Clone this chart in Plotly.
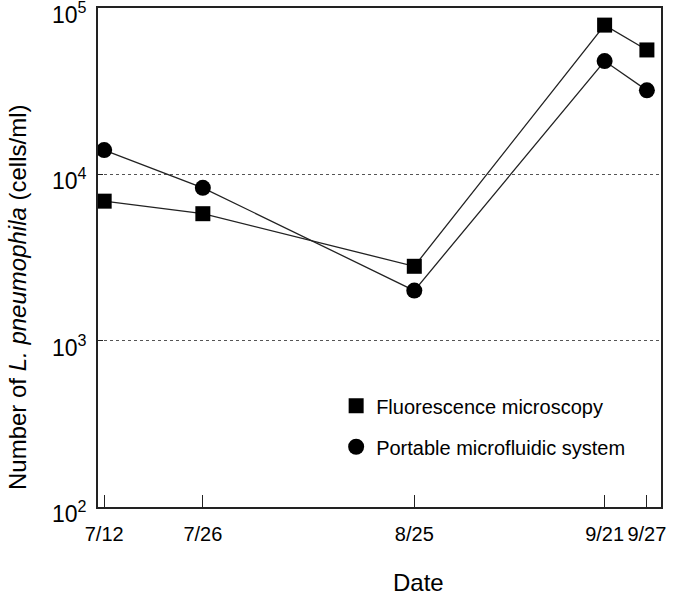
import math
import plotly.graph_objects as go

dates = ["2011-07-12", "2011-07-26", "2011-08-25", "2011-09-21", "2011-09-27"]
date_labels = ["7/12", "7/26", "8/25", "9/21", "9/27"]
fluorescence = [6900, 5800, 2800, 79000, 56000]
microfluidic = [14000, 8300, 2000, 48000, 32000]
y_tickvals = [100, 1000, 10000, 100000]
y_ticktext = ["10<sup>2</sup>", "10<sup>3</sup>", "10<sup>4</sup>", "10<sup>5</sup>"]

FONT = "Liberation Sans, Arial, sans-serif"
LINE = "#222222"

fig = go.Figure()
fig.add_trace(go.Scatter(x=dates, y=fluorescence, mode="lines+markers",
                         line=dict(color=LINE, width=1.3),
                         marker=dict(symbol="square", size=15, color="black"),
                         showlegend=False))
fig.add_trace(go.Scatter(x=dates, y=microfluidic, mode="lines+markers",
                         line=dict(color=LINE, width=1.3),
                         marker=dict(symbol="circle", size=16, color="black"),
                         showlegend=False))
# legend entries (marker only)
fig.add_trace(go.Scatter(x=[None], y=[None], mode="markers", name="Fluorescence microscopy",
                         marker=dict(symbol="square", size=15, color="black"),
                         legendgroup="a"))
fig.add_trace(go.Scatter(x=[None], y=[None], mode="markers", name="Portable microfluidic system",
                         marker=dict(symbol="circle", size=16, color="black"),
                         legendgroup="b"))

# y tick labels as annotations (log axis -> log10 positions), nudged slightly below ticks
y_label_annots = [
    dict(text=t, xref="paper", yref="y", x=0, y=math.log10(v), xanchor="right",
         yanchor="middle", xshift=-9, yshift=-5, showarrow=False,
         font=dict(size=23, color="black"))
    for v, t in zip(y_tickvals, y_ticktext)
]

fig.update_layout(
    width=675, height=599,
    margin=dict(l=98, r=14, t=8, b=92, autoexpand=False),
    paper_bgcolor="white", plot_bgcolor="white",
    font=dict(family=FONT, size=21, color="black"),
    showlegend=True,
    legend=dict(x=0.423, y=0.242, xanchor="left", yanchor="top",
                font=dict(size=20, color="black"), bgcolor="rgba(0,0,0,0)",
                tracegroupgap=12, traceorder="grouped", itemwidth=30),
    annotations=[
        dict(text="Number of <i>L. pneumophila</i> (cells/ml)", textangle=-90,
             xref="paper", yref="paper", x=(17 - 98) / 563, y=(507 - 297) / 499,
             xanchor="center", yanchor="middle", showarrow=False,
             font=dict(size=24, color="black")),
        dict(text="Date", xref="paper", yref="paper",
             x=(418 - 98) / 563, y=(507 - 582) / 499,
             xanchor="center", yanchor="middle", showarrow=False,
             font=dict(size=24, color="black")),
    ] + y_label_annots,
)
fig.update_xaxes(
    type="date",
    range=["2011-07-11 03:00", "2011-09-29 00:00"],
    tickvals=dates, ticktext=date_labels, tickangle=0,
    ticks="inside", ticklen=12, tickwidth=1, tickcolor=LINE,
    showline=True, linecolor=LINE, linewidth=1.5, mirror=True,
    showgrid=False, zeroline=False,
    tickfont=dict(size=20),
    ticklabelstandoff=8, ticklabeloverflow="allow",
)
fig.update_yaxes(
    type="log", range=[1.9995, 5.0005],
    tickvals=y_tickvals, showticklabels=False,
    ticks="inside", ticklen=5, tickcolor=LINE,
    showline=True, linecolor=LINE, linewidth=1.5, mirror=True,
    showgrid=True, gridcolor="#555555", griddash="dot", gridwidth=1,
    zeroline=False,
)
fig.write_html("out.html", post_script="document.body.style.margin='0';",
               config={"displayModeBar": False})
